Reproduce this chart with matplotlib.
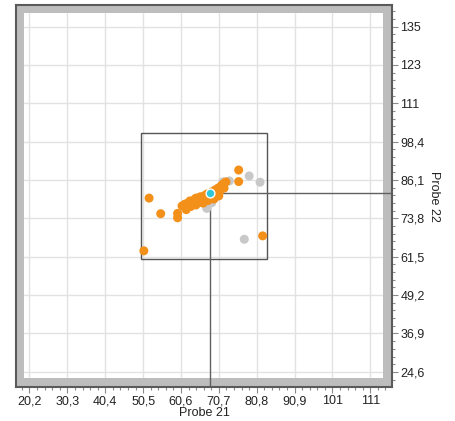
import matplotlib
matplotlib.use("Agg")
import matplotlib.pyplot as plt
from matplotlib.patches import Rectangle
from matplotlib.ticker import FixedLocator, MultipleLocator

plt.rcParams['font.family'] = ['Liberation Sans', 'DejaVu Sans']

# ---- data ----
orange_x = [52.1, 55.2, 59.7, 59.7, 50.7, 76.0, 76.0, 82.4,
            60.9, 61.7, 62.5, 63.0, 63.5, 64.1, 64.6, 65.1, 65.7, 66.2, 66.7,
            67.3, 67.5, 68.1, 68.9, 69.4, 69.7, 70.2, 70.5, 71.0, 71.3, 71.8,
            72.1, 72.6, 64.6, 66.5, 61.9, 69.4, 70.7, 63.2, 65.5, 67.8, 62.0]
orange_y = [80.3, 75.3, 75.4, 74.0, 63.4, 89.3, 85.6, 68.2,
            77.8, 78.4, 78.7, 79.4, 78.4, 79.7, 80.3, 79.4, 80.7, 80.0, 81.0,
            80.3, 81.6, 80.6, 82.3, 81.3, 82.9, 81.9, 83.5, 82.6, 84.2, 84.8,
            83.5, 85.5, 78.1, 78.7, 77.1, 80.0, 81.0, 77.6, 79.0, 79.5, 76.6]
grey_x = [78.8, 81.7, 77.5, 73.5, 67.5, 68.8, 71.8]
grey_y = [87.4, 85.4, 67.1, 85.8, 77.0, 78.8, 85.5]
center_x = [68.3]
center_y = [81.9]
rect_x = [49.85, 83.45]
rect_y = [60.7, 101.3]

x_ticks = [20.2, 30.3, 40.4, 50.5, 60.6, 70.7, 80.8, 90.9, 101.0, 111.1]
x_labels = ['20,2', '30,3', '40,4', '50,5', '60,6', '70,7', '80,8', '90,9', '101', '111']
y_ticks = [24.6, 36.9, 49.2, 61.5, 73.8, 86.1, 98.4, 110.7, 123.0, 135.3]
y_labels = ['24,6', '36,9', '49,2', '61,5', '73,8', '86,1', '98,4', '111', '123', '135']
x_lim = [16.6, 116.9]
y_lim = [19.75, 142.2]

# ---- figure ----
W, H = 455, 421
fig = plt.figure(figsize=(W / 100, H / 100), dpi=100)
ax = fig.add_axes([16 / W, 1 - 387 / H, 376 / W, 382 / H])
ax.set_xlim(x_lim)
ax.set_ylim(y_lim)

ax.xaxis.set_major_locator(FixedLocator(x_ticks))
ax.set_xticklabels(x_labels)
ax.xaxis.set_minor_locator(MultipleLocator(2.02))
ax.yaxis.set_major_locator(FixedLocator(y_ticks))
ax.set_yticklabels(y_labels)
ax.yaxis.set_minor_locator(MultipleLocator(2.46))
ax.yaxis.tick_right()
ax.yaxis.set_label_position('right')

ax.tick_params(which='both', direction='out', color='#8a8a8a', labelsize=9,
               labelcolor='#222222', width=0.8)
ax.tick_params(which='major', length=4, pad=2)
ax.tick_params(which='minor', length=2)

ax.grid(True, which='major', color='#e2e2e2', lw=1, zorder=0)
ax.set_axisbelow(True)

for s in ax.spines.values():
    s.set_color('#5a5a5a')
    s.set_linewidth(1.5)
    s.set_zorder(6)

# grey frame band
bw = 8 / 376
bh = 8 / 382
band_color = '#bdbdbd'
for (x0, y0, w, h) in [(0, 0, bw, 1), (1 - 9 / 376, 0, 9 / 376, 1),
                       (0, 1 - bh, 1, bh), (0, 0, 1, 9 / 382)]:
    ax.add_patch(Rectangle((x0, y0), w, h, transform=ax.transAxes,
                           facecolor=band_color, edgecolor='none', zorder=2))

# box
ax.add_patch(Rectangle((rect_x[0], rect_y[0]), rect_x[1] - rect_x[0],
                       rect_y[1] - rect_y[0], fill=False, edgecolor='#555555',
                       lw=1, zorder=3))

# crosshair
ax.plot([center_x[0], x_lim[1]], [center_y[0], center_y[0]], color='#606060',
        lw=1, zorder=3)
ax.plot([center_x[0], center_x[0]], [center_y[0], y_lim[0]], color='#606060',
        lw=1, zorder=3)

ax.scatter(grey_x, grey_y, s=42, color='#c8c8c8', edgecolors='none', zorder=4)
ax.scatter(orange_x, orange_y, s=42, color='#f39019', edgecolors='none', zorder=4)
ax.scatter(center_x, center_y, s=40, color='#30c8d8', edgecolors='white',
           linewidths=1, zorder=5)

ax.set_xlabel('Probe 21', fontsize=9, color='#222222', labelpad=0)
ax.set_ylabel('Probe 22', fontsize=9, color='#222222', rotation=270,
              labelpad=11)

fig.savefig('out.png', dpi=100)
